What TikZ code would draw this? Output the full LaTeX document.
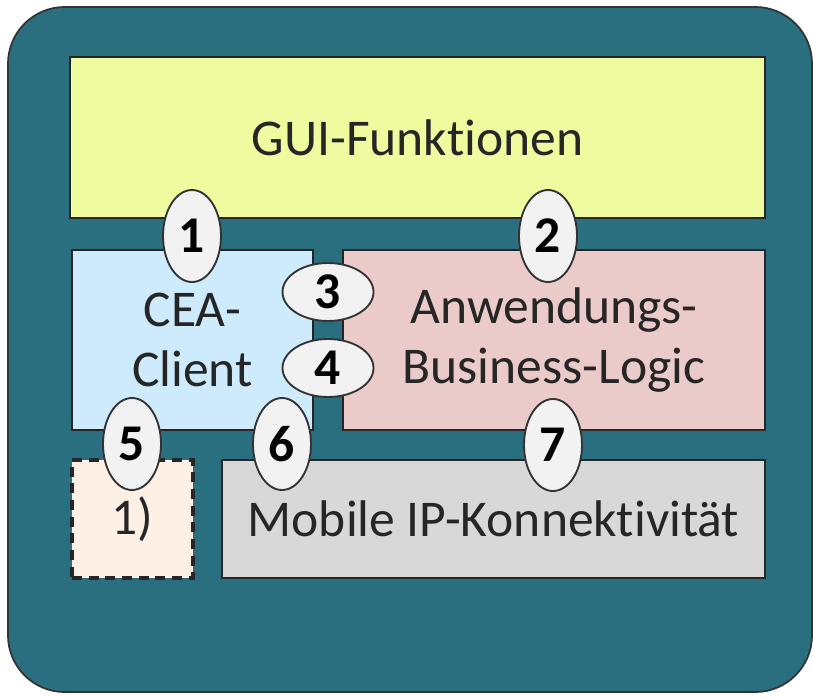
\documentclass[tikz,border=0pt]{standalone}
\usepackage{fontspec}
\setmainfont{Carlito}[Ligatures=NoCommon]
\usetikzlibrary{shapes,positioning}

\definecolor{petrol}{HTML}{2A6F80}
\definecolor{guiyellow}{HTML}{EEFB9E}
\definecolor{ceablue}{HTML}{CDEBFD}
\definecolor{apppink}{HTML}{EBCBCA}
\definecolor{ipgray}{HTML}{D8D8D8}
\definecolor{optpeach}{HTML}{FEF0E5}
\definecolor{portgray}{HTML}{F2F2F2}

\begin{document}
\begin{tikzpicture}[x=0.03cm,y=-0.03cm,
    every node/.style={font=\fontsize{44}{51}\selectfont, text=black!85, align=center},
    block/.style={rectangle, draw=black!85, line width=2.4pt, inner sep=0pt},
    port/.style={ellipse, draw=black!80, line width=1.6pt, fill=portgray,
                 inner sep=0pt, text=black, font=\fontsize{44}{51}\selectfont\bfseries},
    vport/.style={port, minimum width=1.74cm, minimum height=2.76cm},
    hport/.style={port, minimum width=2.73cm, minimum height=1.74cm}]
    \useasboundingbox (0,0) rectangle (813,698);
    \draw[fill=petrol, draw=black!80, line width=1.5pt, rounded corners=1.7cm] (8,7) rectangle (812,692);

    % the blocks
    \node (gui) [block, fill=guiyellow, minimum width=20.85cm, minimum height=4.83cm] at (417.5,137.5) {GUI-Funktionen};
    \node (cea) [block, fill=ceablue, minimum width=7.23cm, minimum height=5.4cm] at (192.5,340) {CEA-\\Client};
    \node (app) [block, fill=apppink, minimum width=12.66cm, minimum height=5.4cm] at (554,340) {Anwendungs-\\Business-Logic};
    \node (opt) [block, fill=optpeach, draw=black!85, line width=3pt, dash pattern=on 3mm off 2mm, minimum width=3.63cm, minimum height=3.54cm] at (132.5,519) {1)};
    \node (mip) [block, fill=ipgray, minimum width=16.29cm, minimum height=3.54cm] at (493.5,519) {Mobile IP-Konnektivität};

    % the interfaces
    \node (p1) [vport] at (192,236) {1};
    \node (p2) [vport] at (548,236) {2};
    \node (p3) [hport] at (328,292) {3};
    \node (p4) [hport] at (328,368) {4};
    \node (p5) [vport] at (132,444) {5};
    \node (p6) [vport] at (282,444) {6};
    \node (p7) [vport] at (553,445) {7};
\end{tikzpicture}
\end{document}
